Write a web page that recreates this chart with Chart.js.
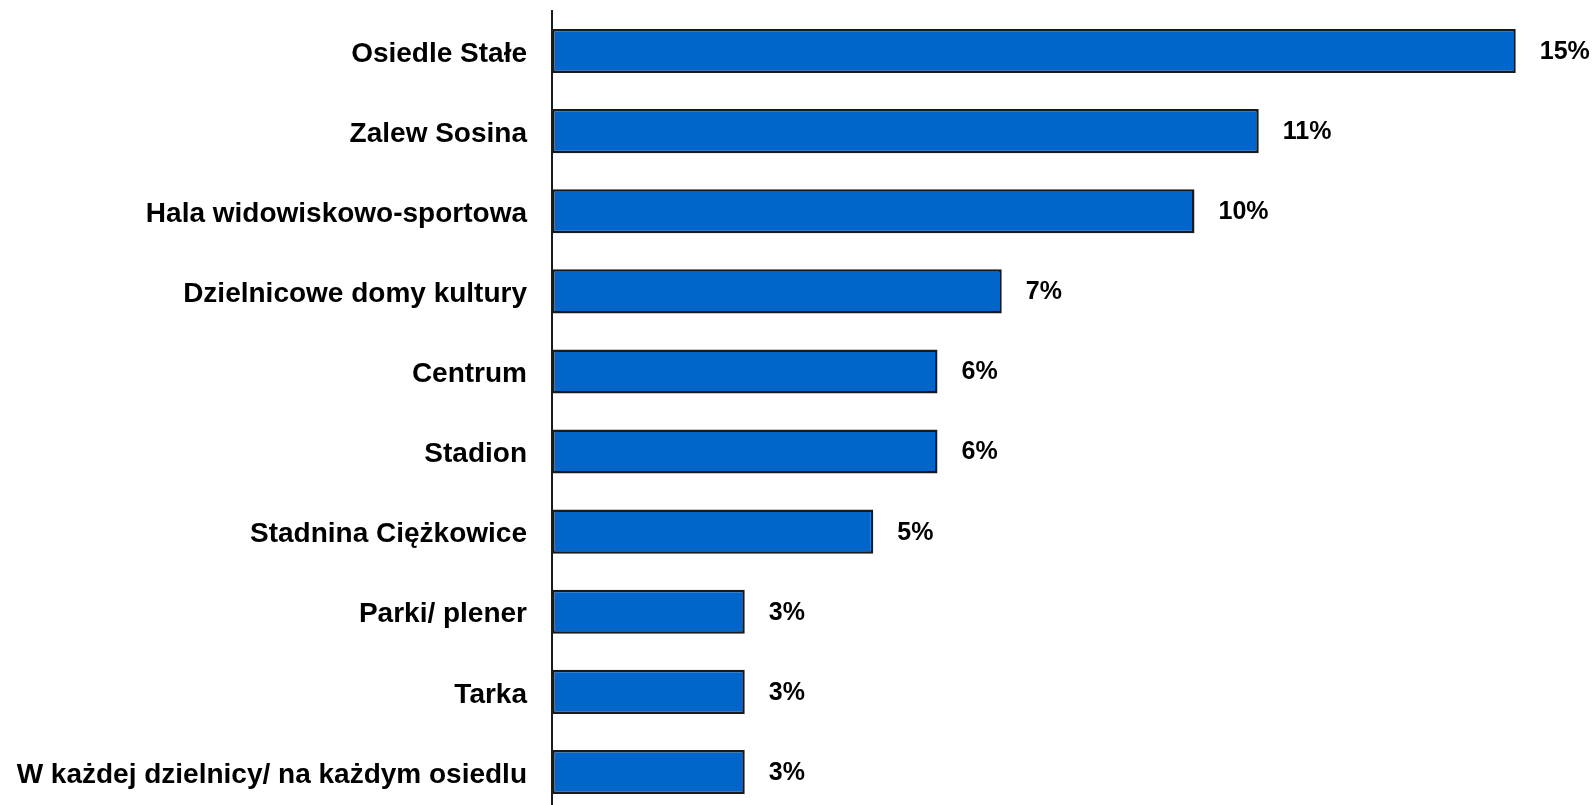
<!DOCTYPE html>
<html>
<head>
<meta charset="utf-8">
<script src="https://cdn.jsdelivr.net/npm/chart.js@4"></script>
<style>
  html, body { margin: 0; padding: 0; background: #fff; overflow: hidden; }
  canvas { display: block; }
</style>
</head>
<body>
<canvas id="chart" width="1593" height="812"></canvas>
<script>
const categories = [
    'Osiedle Stałe',
    'Zalew Sosina',
    'Hala widowiskowo-sportowa',
    'Dzielnicowe domy kultury',
    'Centrum',
    'Stadion',
    'Stadnina Ciężkowice',
    'Parki/ plener',
    'Tarka',
    'W każdej dzielnicy/ na każdym osiedlu'
];
const values = [15, 11, 10, 7, 6, 6, 5, 3, 3, 3];
const valueLabels = ['15%', '11%', '10%', '7%', '6%', '6%', '5%', '3%', '3%', '3%'];

const FONT = '"Liberation Sans", Arial, sans-serif';

// draws the percentage next to each bar end
const valueLabelPlugin = {
    id: 'valueLabels',
    afterDatasetsDraw(chart) {
        const ctx = chart.ctx;
        const meta = chart.getDatasetMeta(0);
        ctx.save();
        ctx.font = 'bold 25px ' + FONT;
        ctx.fillStyle = '#000';
        ctx.textAlign = 'left';
        ctx.textBaseline = 'middle';
        meta.data.forEach((bar, i) => {
            ctx.fillText(valueLabels[i], bar.x + 24, bar.y + 1);
        });
        ctx.restore();
    }
};

new Chart(document.getElementById('chart'), {
    type: 'bar',
    data: {
        labels: categories,
        datasets: [{
            data: values,
            backgroundColor: '#0066CC',
            borderColor: '#1a1a1a',
            borderWidth: 2.5,
            borderSkipped: false,
            barPercentage: 0.55,
            categoryPercentage: 1
        }]
    },
    options: {
        indexAxis: 'y',
        responsive: false,
        animation: false,
        layout: { padding: { top: 11, right: 13, bottom: 0, left: 0 } },
        plugins: {
            legend: { display: false },
            tooltip: { enabled: false }
        },
        scales: {
            x: {
                display: false,
                min: 0,
                max: 16
            },
            y: {
                // fixed axis width, and no extra vertical padding from the tick labels
                afterFit: scale => {
                    scale.width = 552;
                    scale.paddingTop = 0;
                    scale.paddingBottom = 0;
                },
                grid: { display: false, drawTicks: false },
                border: { display: true, color: '#1a1a1a', width: 2 },
                ticks: {
                    padding: 25,
                    labelOffset: 3,
                    color: '#000',
                    font: { family: FONT, size: 28, weight: 'bold' }
                }
            }
        }
    },
    plugins: [valueLabelPlugin]
});
</script>
</body>
</html>
